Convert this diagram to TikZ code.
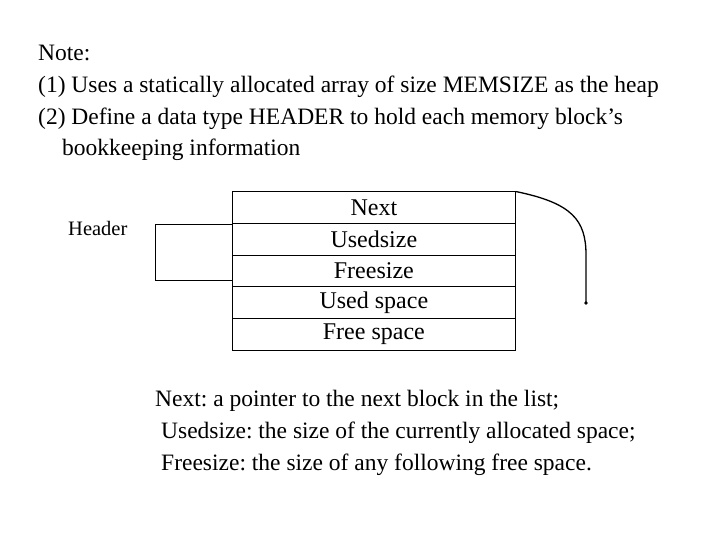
\documentclass[tikz,border=0pt]{standalone}
\usepackage{fontspec}
\setmainfont{Liberation Serif}
\frenchspacing
\begin{document}
\begin{tikzpicture}[x=1pt,y=-1pt,
  txt/.style={anchor=base west,inner sep=0pt,font=\fontsize{23.5}{23.5}\selectfont},
  cell/.style={draw,minimum width=283pt,minimum height=31.6pt,inner sep=0pt,anchor=north west,font=\fontsize{24}{24}\selectfont,line width=0.7pt},
  lbl/.style={anchor=base west,inner sep=0pt,font=\fontsize{20.5}{20.5}\selectfont}]
\useasboundingbox (0,0) rectangle (720,540);
\node[txt] (n0) at (38,61) {Note:};
\node[txt] (n1) at (38,93) {(1) Uses a statically allocated array of size MEMSIZE as the heap};
\node[txt] (n2) at (38,125) {(2) Define a data type HEADER to hold each memory block’s};
\node[txt] (n3) at (62,156) {bookkeeping information};
\node[cell] (c1) at (232,191.5) {Next};
\node[cell] (c2) at (232,223.1) {Usedsize};
\node[cell] (c3) at (232,254.7) {Freesize};
\node[cell] (c4) at (232,286.3) {Used space};
\node[cell] (c5) at (232,317.9) {Free space};
\node[lbl] (hd) at (68,236) {Header};
\coordinate (ht) at ([yshift=-1pt]c2.north west);
\coordinate (hb) at (c3.west |- 0,280.5);
\draw[line width=0.7pt] (ht) -- ++(-77,0) |- (hb);
\coordinate (e) at (586,303);
\draw[line width=1.3pt] (c1.north east) .. controls (572,203) and (586,220) .. (586,255) -- (e);
\fill (e) circle (1.8pt);
\node[txt] (b1) at (155,406) {Next: a pointer to the next block in the list;};
\node[txt] (b2) at (161,438) {Usedsize: the size of the currently allocated space;};
\node[txt] (b3) at (161,470) {Freesize: the size of any following free space.};
\end{tikzpicture}
\end{document}
